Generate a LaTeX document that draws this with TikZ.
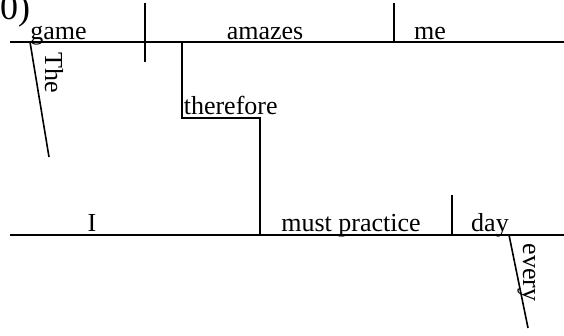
\documentclass[tikz,border=0pt]{standalone}
\usepackage{fontspec}
\setmainfont{Liberation Serif}
\begin{document}
\begin{tikzpicture}[x=1pt,y=-1pt, line width=1.6pt,
  word/.style={inner sep=0pt, anchor=base, font=\fontsize{26}{30}\selectfont},
  vword/.style={word, rotate=-90, anchor=base west},
  numlabel/.style={inner sep=0pt, anchor=base east, font=\fontsize{36}{40}\selectfont}]
\useasboundingbox (0,0) rectangle (564,335);
% coordinates
\coordinate (tl) at (10,42); \coordinate (tr) at (564,42);
\coordinate (sv1) at (145,3); \coordinate (sv2) at (145,62);
\coordinate (vo1) at (394,3); \coordinate (vo2) at (394,42);
\coordinate (the1) at (30,42); \coordinate (the2) at (49,157);
\coordinate (th1) at (182,42); \coordinate (th2) at (182,118);
\coordinate (th3) at (260,118); \coordinate (th4) at (260,235);
\coordinate (bl) at (10,235); \coordinate (br) at (564,235);
\coordinate (bo1) at (452,195); \coordinate (bo2) at (452,235);
\coordinate (ev1) at (509,235); \coordinate (ev2) at (528,328);
% lines
\draw (tl) -- (tr);
\draw (sv1) -- (sv2);
\draw (vo1) -- (vo2);
\draw (the1) -- (the2);
\draw (th1) -- (th2) -- (th3) -- (th4);
\draw (bl) -- (br);
\draw (bo1) -- (bo2);
\draw (ev1) -- (ev2);
% words
\node[numlabel] (num) at (31,19) {0)};
\node[word] (game) at (58.5,39) {game};
\node[word] (amazes) at (265,39) {amazes};
\node[word] (me) at (430,39) {me};
\node[word, anchor=base west] (therefore) at (183,114) {therefore};
\node[word] (I) at (92,231) {I};
\node[word] (must) at (351,231) {must practice};
\node[word] (day) at (490,231) {day};
\node[vword] (The) at (45,52) {The};
\node[vword] (every) at (523,243) {every};
\end{tikzpicture}
\end{document}
